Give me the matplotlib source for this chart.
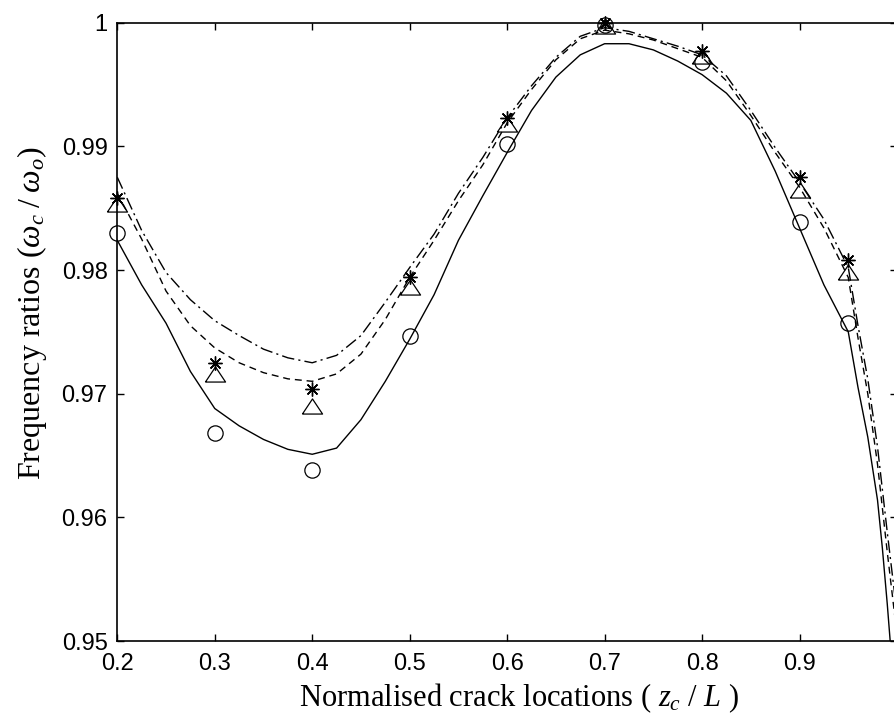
import matplotlib
matplotlib.use("Agg")
import matplotlib.pyplot as plt

# crack positions with measured frequency ratios (three marker sets)
crack_pos = [0.2, 0.3, 0.4, 0.5, 0.6, 0.7, 0.8, 0.9, 0.95]
ratio_circle = [0.9830, 0.9668, 0.9638, 0.9747, 0.9902, 0.9998, 0.9968, 0.9839, 0.9757]
ratio_triangle = [0.9853, 0.9716, 0.9690, 0.9786, 0.9918, 0.9997, 0.9973, 0.9865, 0.9798]
ratio_star = [0.9858, 0.9725, 0.9704, 0.9794, 0.9923, 1.0000, 0.9977, 0.9875, 0.9808]

# predicted curves
curve_x = [0.200, 0.225, 0.250, 0.275, 0.300, 0.325, 0.350, 0.375, 0.400, 0.425,
           0.450, 0.475, 0.500, 0.525, 0.550, 0.575, 0.600, 0.625, 0.650, 0.675,
           0.700, 0.725, 0.750, 0.775, 0.800, 0.825, 0.850, 0.875, 0.900, 0.925,
           0.950, 0.960, 0.970, 0.980, 0.990, 1.000]
curve_dashdot = [0.9875, 0.9832, 0.9798, 0.9776, 0.9759, 0.9747, 0.9736, 0.9729, 0.9725, 0.9731,
                 0.9747, 0.9774, 0.9802, 0.9829, 0.9862, 0.9891, 0.9923, 0.9949, 0.9972, 0.9989,
                 0.9996, 0.9993, 0.9987, 0.9981, 0.9974, 0.9957, 0.9929, 0.9899, 0.9871, 0.9841,
                 0.9802, 0.9755, 0.9712, 0.9657, 0.9588, 0.9522]
curve_dashed = [0.9862, 0.9825, 0.9783, 0.9755, 0.9737, 0.9725, 0.9717, 0.9712, 0.9710, 0.9716,
                0.9732, 0.9760, 0.9794, 0.9824, 0.9856, 0.9885, 0.9919, 0.9946, 0.9970, 0.9987,
                0.9994, 0.9991, 0.9986, 0.9979, 0.9972, 0.9953, 0.9925, 0.9895, 0.9867, 0.9834,
                0.9794, 0.9745, 0.9700, 0.9643, 0.9572, 0.9505]
solid_x = curve_x[:31] + [0.960, 0.970, 0.980, 0.985, 0.990, 0.993]
curve_solid = [0.9824, 0.9788, 0.9757, 0.9718, 0.9688, 0.9674, 0.9663, 0.9655, 0.9651, 0.9656,
               0.9679, 0.9710, 0.9744, 0.9780, 0.9824, 0.9860, 0.9895, 0.9929, 0.9956, 0.9974,
               0.9983, 0.9983, 0.9978, 0.9969, 0.9958, 0.9943, 0.9921, 0.9880, 0.9834, 0.9788,
               0.9750, 0.9705, 0.9665, 0.9614, 0.9575, 0.9530, 0.9500]

x_ticks = [0.2, 0.3, 0.4, 0.5, 0.6, 0.7, 0.8, 0.9]
y_ticks = [0.95, 0.96, 0.97, 0.98, 0.99, 1.0]
y_ticklabels = ["0.95", "0.96", "0.97", "0.98", "0.99", "1"]

plt.rcParams["mathtext.fontset"] = "custom"
plt.rcParams["mathtext.rm"] = "Liberation Serif"
plt.rcParams["mathtext.it"] = "Liberation Serif:italic"

W, H = 894, 720
fig = plt.figure(figsize=(W / 100, H / 100), dpi=100)
left, right, top, bottom = 117.3, 897.0, 22.7, 641.0
ax = fig.add_axes([left / W, 1 - bottom / H, (right - left) / W, (bottom - top) / H])

ax.plot(solid_x, curve_solid, color="black", lw=1.0, ls="-")
ax.plot(curve_x, curve_dashed, color="black", lw=1.0, ls=(0, (5, 3.5)))
ax.plot(curve_x, curve_dashdot, color="black", lw=1.0, ls=(0, (9, 3, 1.5, 3)))

tri = [(-1, -0.75), (1, -0.75), (0, 0.75), (-1, -0.75)]
ax.plot(crack_pos, ratio_circle, ls="none", marker="o", ms=11, mfc="none",
        mec="black", mew=0.9, clip_on=False)
ax.plot(crack_pos, ratio_triangle, ls="none", marker=tri, ms=14.5, mfc="none",
        mec="black", mew=0.9, clip_on=False)
ax.plot(crack_pos, ratio_star, ls="none", marker=(8, 2, 0), ms=10, mfc="none",
        mec="black", mew=1.0, clip_on=False)

ax.set_xlim(0.2, 1.0)
ax.set_ylim(0.95, 1.0)
ax.set_xticks(x_ticks)
ax.set_xticklabels([f"{v:.1f}" for v in x_ticks])
ax.set_yticks(y_ticks)
ax.set_yticklabels(y_ticklabels)
ax.tick_params(direction="in", top=True, right=True, length=5, width=1.0,
               labelsize=17, colors="black")
ax.tick_params(axis="y", pad=7)
ax.tick_params(axis="x", pad=8.5)
for lab in ax.get_xticklabels() + ax.get_yticklabels():
    lab.set_fontfamily("Liberation Sans")
for sp in ax.spines.values():
    sp.set_linewidth(1.2)

fig.text(519.5 / W, 1 - 706.7 / H, r"Normalised crack locations ( $z_c$ / $L$ )",
         ha="center", va="baseline", fontsize=22, family="Liberation Serif")
fig.text(32 / W, 1 - 313 / H, r"Frequency ratios ($\omega_c\;/\;\omega_o$)",
         ha="center", va="center", rotation=90, fontsize=23, family="Liberation Serif")

fig.savefig("out.png", dpi=100)
